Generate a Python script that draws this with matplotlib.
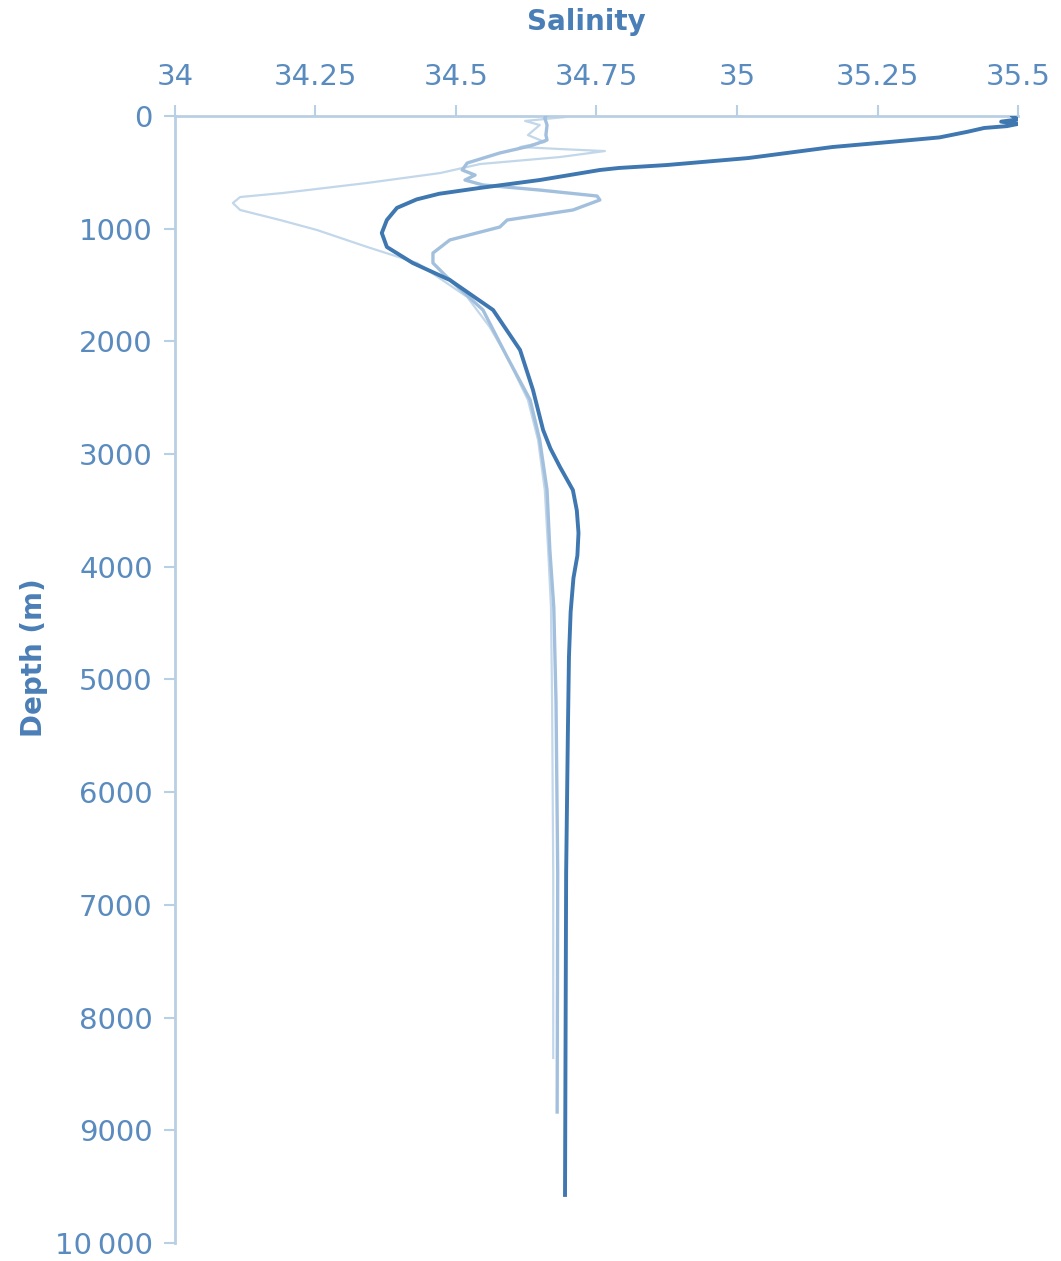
import numpy as np
import matplotlib
matplotlib.use("Agg")
import matplotlib.pyplot as plt
from matplotlib.ticker import FuncFormatter

# salinity profiles vs depth (m), three casts
dark_sal = [35.49, 35.50, 35.47, 35.50, 35.48, 35.44, 35.41, 35.36, 35.27, 35.17, 35.02, 34.875,
            34.79, 34.756, 34.649, 34.54, 34.47, 34.43, 34.395, 34.377, 34.368, 34.377,
            34.423, 34.489, 34.566, 34.614, 34.637, 34.655, 34.668, 34.685, 34.708,
            34.715, 34.718, 34.716, 34.709, 34.704, 34.701, 34.699, 34.696, 34.694]
dark_depth = [0, 30, 50, 70, 90, 106, 140, 190, 231, 275, 373, 435,
              461, 479, 568, 640, 690, 740, 815, 923, 1038, 1162,
              1304, 1455, 1721, 2076, 2431, 2786, 2950, 3114, 3319,
              3500, 3700, 3900, 4100, 4400, 4800, 5500, 6717, 9574]

mid_sal = [34.66, 34.658, 34.662, 34.660, 34.662, 34.632, 34.578, 34.520, 34.511, 34.534,
           34.516, 34.548, 34.649, 34.751, 34.756, 34.708, 34.591, 34.578, 34.489, 34.459,
           34.459, 34.484, 34.548, 34.591, 34.632, 34.649, 34.662, 34.667, 34.674, 34.678,
           34.681, 34.680]
mid_depth = [0, 18, 80, 169, 213, 266, 328, 417, 479, 524,
             568, 612, 657, 710, 745, 834, 923, 985, 1100, 1216,
             1304, 1429, 1721, 2138, 2520, 2875, 3319, 3851, 4357, 5200,
             6717, 8838]

light_sal = [34.694, 34.623, 34.649, 34.628, 34.658, 34.614, 34.685, 34.765, 34.685, 34.543,
             34.472, 34.342, 34.192, 34.116, 34.103, 34.116, 34.187, 34.253, 34.342, 34.431,
             34.520, 34.560, 34.591, 34.628, 34.646, 34.658, 34.664, 34.669, 34.671, 34.673,
             34.673]
light_depth = [9, 44, 80, 169, 231, 275, 293, 311, 364, 426,
               506, 594, 683, 719, 772, 834, 923, 1012, 1162, 1304,
               1606, 1872, 2138, 2520, 2875, 3319, 3851, 4357, 5200, 6717,
               8358]

sal_ticks = [34, 34.25, 34.5, 34.75, 35, 35.25, 35.5]
depth_ticks = [0, 1000, 2000, 3000, 4000, 5000, 6000, 7000, 8000, 9000, 10000]

axis_col = "#b9cfe4"
tick_col = "#5a8bbf"
label_col = "#4a7eb6"

fig = plt.figure(figsize=(10.61, 12.61), dpi=100)
ax = fig.add_axes([0.1649, 0.0143, 0.7946, 0.8937])

ax.plot(light_sal, light_depth, color="#c3d7ea", lw=1.6, zorder=2)
ax.plot(mid_sal, mid_depth, color="#a2c0dd", lw=2.4, zorder=3)
ax.plot(dark_sal, dark_depth, color="#3f77b0", lw=2.8, zorder=4)

ax.set_xlim(34, 35.5)
ax.set_ylim(10000, 0)
ax.xaxis.tick_top()
ax.xaxis.set_label_position("top")
ax.set_xticks(sal_ticks)
ax.set_yticks(depth_ticks)

def sal_fmt(v, pos):
    return ("%g" % v)

def depth_fmt(v, pos):
    v = int(round(v))
    if v >= 10000:
        return "{:,}".format(v).replace(",", "\u2009")
    return str(v)

ax.xaxis.set_major_formatter(FuncFormatter(sal_fmt))
ax.yaxis.set_major_formatter(FuncFormatter(depth_fmt))

for side in ["right", "bottom"]:
    ax.spines[side].set_visible(False)
for side in ["top", "left"]:
    ax.spines[side].set_color(axis_col)
    ax.spines[side].set_linewidth(2)

ax.tick_params(axis="both", colors=axis_col, labelcolor=tick_col, labelsize=21,
               length=8, width=1.5, pad=8)
ax.tick_params(axis="x", pad=10)

ax.set_xlabel("Salinity", fontsize=20, fontweight="bold", color=label_col)
ax.set_ylabel("Depth (m)", fontsize=20, fontweight="bold", color=label_col)
ax.xaxis.set_label_coords(0.4875, 1.076)
ax.yaxis.set_label_coords(-0.150, 0.519)

fig.savefig("out.png", dpi=100, facecolor="white")
